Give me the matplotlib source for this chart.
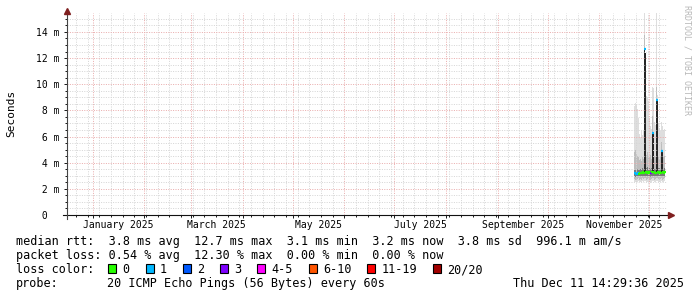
import pandas as pd
import matplotlib
matplotlib.use('Agg')
import matplotlib.pyplot as plt
import matplotlib.dates as mdates
from matplotlib.patches import Rectangle
from matplotlib.ticker import MultipleLocator

plt.rcParams['font.family'] = ['DejaVu Sans Mono']

W, H = 697, 297

# graph window: last 360 days
t_end = pd.Timestamp('2025-12-11 14:29:36')
t_start = t_end - pd.Timedelta(days=360)

# one value per 14.4 h step (values in ms)
times = pd.date_range('2025-11-22 09:00', periods=31, freq='864min')
median = [3.2, 3.15, 3.1, 3.2, 3.15, 3.2, 3.25, 3.2, 3.3, 3.2, 12.7, 3.3, 3.25, 3.3, 3.2, 3.3,
          3.25, 3.3, 6.3, 3.3, 3.2, 3.25, 8.8, 3.3, 3.2, 3.3, 3.2, 4.9, 3.3, 3.25, 3.3]
loss_idx = [1, 1, 1, 1, 0, 0, 0, 0, 0, 0, 1, 0, 0, 0, 0, 0, 3, 0, 1, 0, 0, 0, 1, 0, 0, 0, 0, 1, 0, 0, 0]

outer_lo = [2.55, 2.5, 2.5, 2.55, 2.6, 2.5, 2.55, 2.5, 2.6, 2.55, 2.6, 2.6, 2.5, 2.55, 2.6, 2.5,
            2.45, 2.55, 2.6, 2.6, 2.5, 2.55, 2.6, 2.6, 2.55, 2.5, 2.55, 2.6, 2.5, 2.55, 2.6]
outer_hi = [8.3, 8.6, 8.4, 8.1, 7.4, 6.2, 6.0, 6.4, 6.1, 6.5, 15.5, 9.6, 9.1, 9.0, 8.7, 7.4,
            6.8, 6.6, 9.8, 9.7, 7.1, 6.9, 15.5, 9.2, 7.0, 6.6, 6.4, 7.1, 6.8, 6.5, 6.6]
mid_lo = [2.75, 2.7, 2.7, 2.75, 2.8, 2.7, 2.75, 2.7, 2.8, 2.75, 2.8, 2.8, 2.7, 2.75, 2.8, 2.7,
          2.7, 2.75, 2.8, 2.8, 2.7, 2.75, 2.8, 2.8, 2.75, 2.7, 2.75, 2.8, 2.7, 2.75, 2.8]
mid_hi = [4.8, 5.0, 4.7, 4.5, 4.4, 4.2, 4.3, 4.1, 4.4, 4.3, 13.8, 4.9, 4.6, 4.8, 4.5, 4.4,
          4.6, 4.3, 7.6, 5.0, 4.5, 4.4, 9.8, 4.7, 4.4, 4.3, 4.5, 5.6, 4.6, 4.4, 4.5]
core_lo = [2.95, 2.9, 2.9, 2.95, 3.0, 2.95, 3.0, 2.95, 3.0, 2.95, 3.0, 3.0, 2.95, 3.0, 3.0, 2.95,
           2.9, 3.0, 3.0, 3.0, 2.95, 3.0, 3.0, 3.0, 2.95, 2.95, 3.0, 3.0, 2.95, 3.0, 3.0]
core_hi = [3.5, 3.45, 3.4, 3.5, 3.45, 3.5, 3.55, 3.5, 3.6, 3.5, 3.6, 3.6, 3.6, 3.65, 3.5, 3.6,
           3.55, 3.6, 3.6, 3.55, 3.5, 3.55, 3.6, 3.6, 3.6, 3.6, 3.5, 3.6, 3.6, 3.55, 3.6]
# dense smoke in the spike steps
spike_cols = [10, 11, 18, 19, 22, 23, 27, 28]
spike_lo = [3.3, 3.3, 3.3, 3.3, 3.3, 3.3, 3.3, 3.3]
spike_hi = [12.7, 12.4, 6.3, 6.2, 8.8, 8.7, 4.9, 4.8]

loss_labels = ['0', '1', '2', '3', '4-5', '6-10', '11-19', '20/20']
loss_colors = ['#26ff00', '#00b8ff', '#0059ff', '#7e00ff', '#ff00ff', '#ff5500', '#ff0000', '#a10000']

y_ticks = [0, 2, 4, 6, 8, 10, 12, 14]
month_labels = ['January 2025', 'March 2025', 'May 2025', 'July 2025', 'September 2025', 'November 2025']

stat_lines = ['median rtt:  3.8 ms avg  12.7 ms max  3.1 ms min  3.2 ms now  3.8 ms sd  996.1 m am/s',
              'packet loss: 0.54 % avg  12.30 % max  0.00 % min  0.00 % now']
probe_text = '20 ICMP Echo Pings (56 Bytes) every 60s'
date_text = 'Thu Dec 11 14:29:36 2025'


def ax_x(px):
    return (px - 67) / 600


def ax_y(py):
    return (215 - py) / 202


fig = plt.figure(figsize=(W / 100, H / 100), dpi=100)
fig.patch.set_facecolor('white')
ax = fig.add_axes([67 / W, 82 / H, 600 / W, 202 / H])
ax.set_xlim(t_start, t_end)
ax.set_ylim(0, 15.45)
for s in ax.spines.values():
    s.set_visible(False)

# smoke
xs = mdates.date2num(times)
step = 0.6
for lo, hi, col in [(outer_lo, outer_hi, '#dedede'), (mid_lo, mid_hi, '#bdbdbd'),
                    (core_lo, core_hi, '#7a7a7a')]:
    ax.bar(xs, [h - l for l, h in zip(lo, hi)], bottom=lo, width=step * 1.05,
           color=col, linewidth=0, zorder=1)
ax.bar(xs[spike_cols], [h - l for l, h in zip(spike_lo, spike_hi)], bottom=spike_lo,
       width=step * 1.05, color='#262626', linewidth=0, zorder=1.2)

# median, coloured by loss
ax.hlines(median, xs - step / 2 - 0.05, xs + step / 2 + 0.05,
          colors=[loss_colors[i] for i in loss_idx], linewidth=1.6, zorder=3)

# grid
ax.xaxis.set_major_locator(mdates.MonthLocator())
ax.xaxis.set_minor_locator(mdates.WeekdayLocator(byweekday=mdates.SU))
ax.yaxis.set_major_locator(MultipleLocator(2))
ax.yaxis.set_minor_locator(MultipleLocator(0.5))
ax.set_axisbelow(False)
ax.grid(which='minor', color='#d6d6d6', linewidth=0.72, linestyle=(0, (1, 1.4)))
ax.grid(which='major', color='#eaaeae', linewidth=0.72, linestyle=(0, (1, 1.4)))
ax.tick_params(which='major', direction='out', length=2.2, width=0.72, color='#1f1f1f',
               labelbottom=False, labelleft=False)
ax.tick_params(which='minor', direction='out', length=1.4, width=0.72, color='#1f1f1f')

# axes with arrows
ax.plot([ax_x(63), ax_x(670)], [0, 0], transform=ax.transAxes, clip_on=False,
        color='#111111', linewidth=0.8, zorder=4)
ax.plot([0, 0], [ax_y(219), ax_y(11)], transform=ax.transAxes, clip_on=False,
        color='#444444', linewidth=0.8, zorder=4)
ax.plot(ax_x(671), 0, marker='>', ms=4, color='#7f1f1f', transform=ax.transAxes, clip_on=False, zorder=5)
ax.plot(0, ax_y(10.5), marker='^', ms=4, color='#7f1f1f', transform=ax.transAxes, clip_on=False, zorder=5)

# tick labels
for v in y_ticks:
    lab = f'{v:2d} m' if v else ' 0'
    ax.text(ax_x(36), v, lab, transform=ax.get_yaxis_transform(), ha='left',
            va='center_baseline', fontsize=7.05, color='black')
for lab in month_labels:
    m0 = pd.to_datetime(lab, format='%B %Y')
    mid = m0 + (m0 + pd.offsets.MonthBegin(1) - m0) / 2
    ax.text(mdates.date2num(mid), ax_y(228.3), lab, transform=ax.get_xaxis_transform(),
            ha='center', va='baseline', fontsize=7.05, color='black')

fig.text(11 / W, 1 - 113.5 / H, 'Seconds', rotation=90, ha='center', va='center', fontsize=8)
fig.text(687.5 / W, 1 - 5 / H, 'RRDTOOL / TOBI OETIKER', rotation=270, ha='center', va='top',
         fontsize=6, color='#b8b8b8')

# legend
fs = 8.5
cw = 7.1
base = [245.5, 259.4, 273.3, 287.2]
for i, line in enumerate(stat_lines):
    fig.text(16 / W, 1 - base[i] / H, line, ha='left', va='baseline', fontsize=fs)
fig.text(16 / W, 1 - base[2] / H, 'loss color:', ha='left', va='baseline', fontsize=fs)
x = 108.3
for lab, col in zip(loss_labels, loss_colors):
    fig.add_artist(Rectangle((x / W, 1 - 273 / H), 8 / W, 9 / H, transform=fig.transFigure,
                             facecolor=col, edgecolor='black', linewidth=0.8))
    fig.text((x + 14.3) / W, 1 - base[2] / H, lab, ha='left', va='baseline', fontsize=fs)
    x += (4.25 + len(lab)) * cw
fig.text(16 / W, 1 - base[3] / H, 'probe:', ha='left', va='baseline', fontsize=fs)
fig.text(107.3 / W, 1 - base[3] / H, probe_text, ha='left', va='baseline', fontsize=fs)
fig.text(513.3 / W, 1 - base[3] / H, date_text, ha='left', va='baseline', fontsize=fs)

fig.savefig('out.png', dpi=100, facecolor='white')
